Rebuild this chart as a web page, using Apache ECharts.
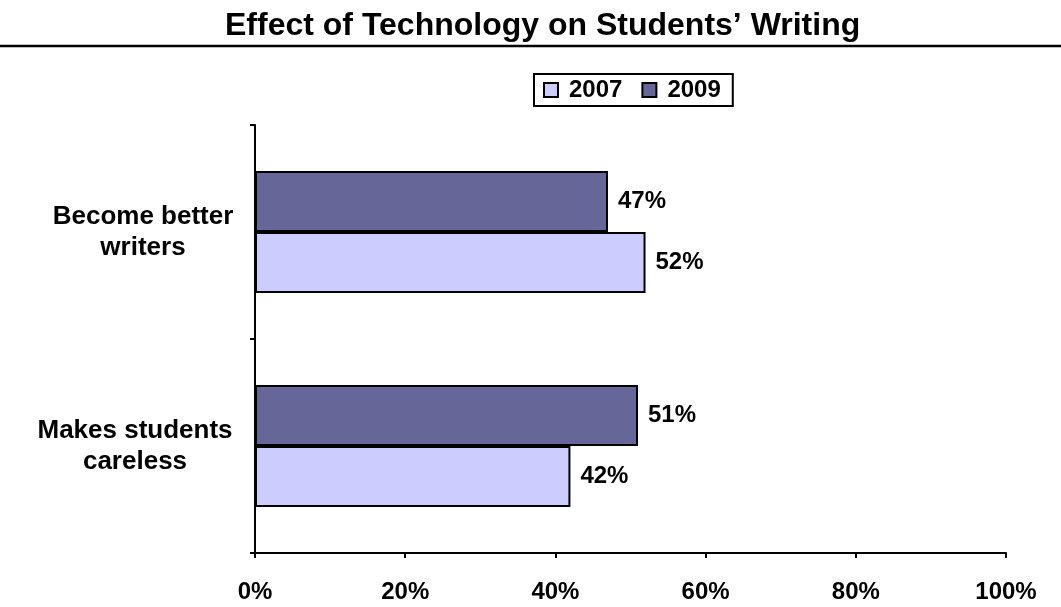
<!DOCTYPE html>
<html>
<head>
<meta charset="utf-8">
<script src="https://cdn.jsdelivr.net/npm/echarts@6/dist/echarts.min.js"></script>
<style>html,body{margin:0;padding:0;background:#fff;}#c{width:1061px;height:607px;}</style>
</head>
<body>
<div id="c"></div>
<script>
const categories = ['Makes students\ncareless', 'Become better\nwriters'];
const values2007 = [42, 52];
const values2009 = [51, 47];
const seriesNames = ['2007', '2009'];
const xTicks = [0, 20, 40, 60, 80, 100];

const FONT = '"Liberation Sans", Arial, sans-serif';
const labelCommon = { fontFamily: FONT, fontWeight: 'bold', fontSize: 26, color: '#000', lineHeight: 31, align: 'center' };
const chart = echarts.init(document.getElementById('c'));
chart.setOption({
  backgroundColor: '#fff',
  animation: false,
  title: {
    text: 'Effect of Technology on Students\u2019 Writing',
    left: 220, top: 5,
    textStyle: { fontFamily: FONT, fontWeight: 'bold', fontSize: 32, color: '#000' }
  },
  graphic: [{
    type: 'line', shape: { x1: 0, y1: 46, x2: 1061, y2: 46 },
    style: { stroke: '#000', lineWidth: 2.5 }
  }],
  legend: {
    left: 534, top: 74,
    data: seriesNames,
    borderColor: '#000', borderWidth: 2,
    padding: [4, 12, 4, 9],
    itemWidth: 14, itemHeight: 14, itemGap: 19,
    icon: 'rect',
    textStyle: { fontFamily: FONT, fontWeight: 'bold', fontSize: 24, color: '#000', padding: [0, 0, 0, 6] }
  },
  grid: { left: 255, right: 55, top: 125, bottom: 54, containLabel: false },
  xAxis: {
    type: 'value', min: xTicks[0], max: xTicks[xTicks.length - 1], interval: 20,
    axisLine: { show: true, lineStyle: { color: '#000', width: 2 } },
    axisTick: { show: true, length: 5, lineStyle: { color: '#000', width: 2 } },
    splitLine: { show: false },
    axisLabel: { formatter: '{value}%', margin: 27, fontFamily: FONT, fontWeight: 'bold', fontSize: 24, color: '#000' }
  },
  yAxis: {
    type: 'category', data: categories,
    axisLine: { show: true, lineStyle: { color: '#000', width: 2 } },
    axisTick: { show: true, length: 5, lineStyle: { color: '#000', width: 2 } },
    axisLabel: {
      margin: 112, align: 'center',
      formatter: function (v, i) { return v.split('\n').map(function (s) { return (i === 0 ? '{b|' : '{a|') + s + '}'; }).join('\n'); },
      rich: {
        a: Object.assign({}, labelCommon),
        b: Object.assign({ padding: [0, 16, 0, 0] }, labelCommon)
      }
    }
  },
  series: [
    {
      name: '2009', type: 'bar', data: values2009,
      barGap: '0%', barCategoryGap: '43%',
      itemStyle: { color: '#666699', borderColor: '#000', borderWidth: 2 },
      label: { show: true, position: 'right', distance: 10, formatter: '{c}%', fontFamily: FONT, fontWeight: 'bold', fontSize: 24, color: '#000' }
    },
    {
      name: '2007', type: 'bar', data: values2007,
      barGap: '0%', barCategoryGap: '43%',
      itemStyle: { color: '#CCCCFF', borderColor: '#000', borderWidth: 2 },
      label: { show: true, position: 'right', distance: 10, formatter: '{c}%', fontFamily: FONT, fontWeight: 'bold', fontSize: 24, color: '#000' }
    }
  ]
});
</script>
</body>
</html>
